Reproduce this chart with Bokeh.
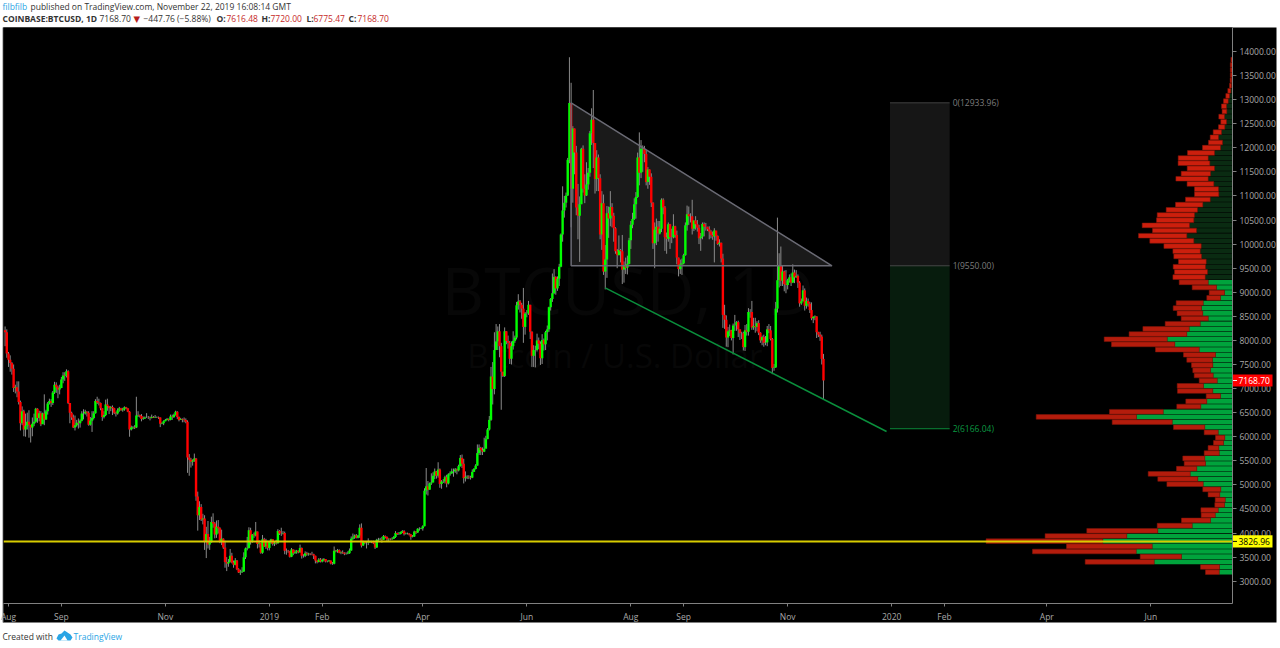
from bokeh.plotting import figure
from bokeh.embed import file_html
from bokeh.resources import INLINE
from bokeh.core.properties import value
from bokeh.models import (Range1d, FixedTicker, LinearAxis, NumeralTickFormatter, ColumnDataSource)
import pandas as pd

# ---- daily candles, 30 Jul 2018 .. 22 Nov 2019 ----
first_open = 8210
close = [8170,7730,
 7600,7530,7410,7010,7030,6940,6720,6280,6530,6150,6230,6310,6250,6190,6270,6310,6580,6390,6490,6260,6480,6360,6530,6690,6740,6700,6920,7080,7030,6980,7010,
 7190,7270,7260,7360,6700,6500,6400,6190,6240,6290,6280,6330,6480,6480,6520,6500,6250,6330,6390,6490,6740,6710,6700,6590,6410,6450,6670,6640,6590,6620,
 6590,6500,6480,6550,6590,6550,6570,6610,6590,6520,6150,6190,6200,6190,6440,6450,6430,6370,6380,6400,6400,6400,6390,6410,6400,6410,6410,6400,6270,6280,6320,
 6350,6370,6350,6420,6410,6450,6520,6410,6350,6370,6360,6350,6310,5570,5520,5480,5500,5550,4760,4370,4540,4280,4300,3830,3980,3760,3810,4230,4200,3970,
 4130,4100,3820,3880,3700,3400,3370,3400,3530,3390,3340,3430,3250,3180,3190,3200,3500,3680,3690,4060,3840,3970,3950,4030,3770,3790,3590,3870,3720,3830,3690,
 3820,3870,3780,3800,3790,4040,3990,3990,4000,3630,3630,3620,3510,3660,3580,3600,3630,3600,3690,3530,3530,3580,3560,3570,3560,3560,3530,3430,3400,3450,3410,
 3440,3460,3410,3410,3430,3370,3360,3630,3620,3650,3590,3600,3590,3570,3570,3580,3640,3880,3910,3950,3900,3950,4110,3740,3820,3800,3800,3810,
 3820,3820,3790,3700,3860,3860,3870,3860,3940,3920,3870,3880,3870,3880,3920,4000,3980,3980,4020,4040,3980,3990,3990,3970,3920,3930,4030,4010,4090,4090,4100,
 4140,4880,4970,4900,5030,5050,5190,5280,5190,5320,5020,5070,5070,5160,5030,5220,5240,5280,5280,5320,5300,5390,5560,5440,5140,5160,5170,5160,5150,5270,
 5330,5400,5660,5770,5720,5690,5750,5950,6150,6350,7250,6990,7800,7980,8190,7880,7350,7260,8190,7990,7950,7620,7880,7990,8060,8730,8810,8740,8660,8280,8560,
 8560,8740,8180,7680,7800,7800,8000,7930,7630,8010,7920,8170,8230,8690,8860,8980,9320,9080,9280,9530,10200,10700,10860,11010,11750,12930,11150,12400,11900,10760,
 10590,10830,11980,11150,11010,11240,11480,12300,12580,12100,11350,11800,11370,10200,10850,9430,9680,10640,10530,10770,10590,10330,9850,9770,9880,9850,9470,9540,9510,9590,10080,
 10400,10520,10830,10980,11800,11480,11980,11980,11870,11290,11550,11400,10860,10020,10300,10360,10220,10320,10920,10760,10140,10110,10410,10150,10140,10370,10190,9720,9480,9580,9600,
 9770,10390,10620,10580,10580,10320,10490,10410,10340,10120,10160,10420,10360,10360,10310,10260,10190,10160,10280,10170,10000,10030,9700,8530,8430,8060,8190,8210,8050,8310,
 8310,8380,8230,8150,8150,7860,8210,8180,8590,8590,8270,8300,8280,8360,8160,8000,8070,7950,7960,8230,8210,8030,7430,7440,8660,9250,9550,9240,9430,9170,9150,
 9250,9310,9200,9410,9310,9340,9200,8770,8810,9040,8720,8820,8760,8630,8460,8490,8500,8170,8120,8080,7616.48,7168.70]
high = [8290,8230,
 7760,7690,7550,7500,7080,7150,7150,6750,6630,6560,6480,6500,6550,6230,6400,6480,6600,6590,6540,6530,6500,6880,6560,6720,6790,6780,6950,7140,7130,7060,7080,
 7240,7340,7340,7400,7380,6700,6520,6460,6440,6350,6380,6360,6530,6570,6560,6530,6530,6410,6530,6530,6780,6830,6790,6710,6590,6530,6770,6790,6640,6640,
 6650,6600,6520,6590,6620,6600,6600,6630,6620,6590,6530,6230,6220,6240,6830,6530,6460,6470,6420,6420,6490,6430,6420,6460,6430,6450,6420,6420,6400,6300,6340,
 6370,6390,6380,6460,6460,6480,6540,6530,6420,6390,6380,6400,6380,6340,5640,5560,5530,5650,5560,4860,4660,4600,4400,4370,4130,4250,3920,4340,4410,4230,
 4260,4270,4120,4070,3890,3840,3500,3460,3670,3590,3430,3480,3440,3270,3240,3290,3600,3700,3920,4120,4110,3980,4010,4230,4030,3850,3800,3960,3900,3880,3840,
 3840,3880,3870,3830,3860,4080,4060,4110,4040,4030,3680,3650,3630,3690,3660,3650,3650,3640,3760,3700,3560,3620,3610,3590,3580,3610,3570,3530,3430,3480,3480,
 3470,3480,3460,3430,3440,3430,3400,3720,3650,3670,3660,3620,3640,3600,3600,3620,3680,3930,3990,3970,3980,3960,4180,4200,3840,3830,3830,3890,
 3840,3840,3840,3810,3880,3900,3900,3920,3960,3950,3930,3890,3890,3910,3940,4040,4010,4020,4030,4060,4060,4010,4010,4000,3980,3960,4050,4040,4100,4120,4110,
 4160,4930,5350,5080,5050,5240,5260,5340,5290,5470,5340,5100,5120,5190,5210,5240,5280,5340,5340,5350,5340,5420,5620,5630,5540,5280,5200,5200,5190,5320,
 5350,5430,5840,5840,5790,5780,5980,6020,6180,6430,7450,7550,8170,8340,8290,8340,7950,7350,8270,8190,8100,7990,7980,8190,8100,8800,8960,8840,8780,9090,8590,
 8630,8820,8740,8190,7900,7890,8140,8060,7980,8130,8040,8200,8310,8700,8880,9390,9480,9330,9330,9590,10220,11200,11000,11070,11790,13880,13350,12450,12400,12040,
 11250,10990,12000,12050,11450,11700,11580,12350,12820,13200,12100,11950,11860,11450,11100,11030,9980,10790,10780,11100,10850,10650,10350,9900,10180,9900,10190,9640,9720,9760,10130,
 10480,10650,10950,11080,11900,12320,12160,12050,12040,11950,11600,11550,11470,10870,10450,10530,10480,10480,10950,10950,10790,10240,10450,10420,10320,10620,10380,10280,9720,9680,9700,
 9800,10450,10800,10780,10640,10920,10490,10580,10500,10400,10230,10450,10450,10440,10360,10370,10290,10260,10330,10240,10180,10100,10030,9800,8740,8520,8280,8330,8220,8350,
 8530,8400,8410,8230,8180,8180,8320,8340,8670,8650,8820,8470,8470,8400,8420,8170,8100,8120,8090,8300,8340,8300,8050,7510,8800,10550,9810,9950,9560,9450,9460,
 9280,9370,9390,9580,9470,9460,9370,9230,8870,9140,9080,8890,8870,8800,8790,8500,8520,8500,8180,8180,8120,7720]
low = [7880,7640,
 7450,7350,7290,6930,6900,6820,6670,6130,6240,6010,6000,6150,5980,5880,6010,6220,6290,6290,6320,6220,6270,6240,6350,6460,6670,6620,6660,6890,6910,6800,6880,
 7010,7110,7160,7230,6680,6280,6350,6180,6130,6210,6170,6190,6320,6360,6460,6420,6230,6230,6100,6360,6480,6680,6650,6550,6330,6380,6430,6540,6470,6530,
 6450,6470,6420,6460,6520,6540,6520,6540,6570,6510,6000,6130,6160,6160,6180,6410,6400,6320,6350,6370,6390,6370,6340,6380,6390,6390,6390,6370,6200,6260,6240,
 6320,6340,6320,6340,6350,6390,6440,6370,6320,6350,6300,6300,6280,5250,5190,5360,5400,5480,4670,4050,4270,4250,4180,3650,3480,3680,3650,3800,4110,3890,
 3900,3990,3790,3750,3670,3280,3210,3300,3390,3370,3280,3330,3230,3170,3130,3170,3190,3460,3640,3680,3760,3800,3900,3930,3680,3700,3570,3570,3710,3670,3640,
 3640,3770,3740,3730,3760,3780,3960,3940,3970,3560,3550,3590,3490,3500,3540,3570,3570,3580,3590,3470,3490,3500,3530,3530,3540,3540,3460,3370,3370,3390,3390,
 3390,3410,3390,3390,3410,3350,3340,3350,3600,3590,3580,3560,3570,3540,3550,3560,3570,3630,3860,3880,3890,3890,3900,3700,3730,3770,3680,3750,
 3800,3790,3770,3670,3690,3840,3850,3800,3860,3890,3830,3830,3850,3860,3880,3900,3960,3960,3970,4000,3950,3970,3970,3950,3860,3910,3920,3980,4000,4050,4080,
 4050,4140,4800,4780,4900,5000,5050,5120,5130,5150,4940,4920,5040,5030,4950,5010,5190,5230,5170,5250,5220,5280,5380,5350,5030,5070,5120,5120,5110,5140,
 5270,5320,5400,5620,5620,5620,5680,5810,5950,6130,6330,6670,6880,7820,7800,7650,6560,7240,7240,7920,7830,7510,7500,7810,7950,8020,8640,8580,8450,7950,8120,
 8480,8530,8030,7450,7450,7440,7770,7820,7490,7510,7790,7800,8000,8180,8620,8800,8960,8950,9030,9130,9520,10050,10550,10760,11000,11680,10350,10860,11450,10600,
 10100,9630,10830,11070,10850,11000,11130,11400,12060,11580,11050,11100,11100,10100,9880,9360,9060,9300,10130,10370,10350,10050,9800,9500,9770,9620,9170,9200,9380,9370,9580,
 9900,10330,10500,10530,10960,11220,11370,11500,11700,11220,11150,11230,10770,9900,9500,9980,10050,10200,10250,10620,9860,9800,10050,9900,10020,10120,10130,9580,9330,9380,9360,
 9580,9760,10280,10400,10450,10200,10270,10300,10260,10000,9860,10100,10160,10280,10270,10100,10120,10090,9620,10070,9980,9950,9620,8260,8240,7870,7860,8090,8000,7710,
 8200,8200,8070,8010,8030,7790,7780,8100,8100,8470,8220,8220,8160,8190,8110,7950,7900,7870,7900,7880,8150,8000,7300,7370,7430,8580,9100,9130,9130,9020,8980,
 9060,9200,9130,9190,9190,9300,9090,8700,8740,8810,8620,8660,8700,8570,8420,8360,8420,8050,8070,7990,7500,6775.47]
assert len(close) == len(high) == len(low)

# ---- volume profile, bottom row first (rows are vp_step apart) ----
vp_first_price = 3187
vp_step = 107.5
vp_up = [13.3,13,78.3,51,96.3,80.3,129.7,105.7,74.7,40.3,22,17.3,14.3,8,7.3,12.7,11.7,29.3,34.7,42.3,35.7,27,27.7,13.3,13.7,9,7.7,14.3,27.7,60.3,96,69.3,31.7,25.7,12,19.7,29,15.3,19.3,22,19.7,20,17,33.3,57.7,65.3,45.7,43.3,32.3,24.3,29.7,
 31,29.3,12,8,16,24.3,27.3,25,27,26.3,31,32.3,31.3,38.7,45.7,36,43,38.7,38,35,29.7,22.3,13.7,14,18.7,24.3,22,18,22.7,24.3,18,12,10,14,11,7.7,6,8,5.7,6,4.3,3,1.7,1,.7,.5,.5,.5,.3]
vp_down = [13.7,19,69,41.3,103.7,85.7,116.7,81.7,71,35,29,14,17.3,9.7,10,11.7,18,36.3,40,42,20.3,21.3,22,15,10.7,10,9.3,14,31.3,60,100.3,53.7,24,21,14.3,35.3,26.3,18,19,17.7,21.3,25.7,32,43.7,63.3,63,57.7,46.3,35,27,25.7,
 28.3,27,13.7,15.3,24.3,29,32.3,33,32.3,27.7,27.7,27.3,37.3,44,48.3,44,47.3,37.3,37.3,31.3,27.3,24.7,24.3,24,26.7,32.3,29.3,27.3,31.7,30,27,18,14,8.3,8.3,6.3,5.7,5.7,4.7,5,4.7,3.7,3,2,1.7,1.7,1.7,1.7,1.3]
assert len(vp_up) == len(vp_down) == 100
vp_bright_below = 9300

# ---- axes ----
price_ticks = [3000,3500,4000,4500,5000,5500,6000,6500,7000,7500,8000,8500,9000,9500,10000,10500,
               11000,11500,12000,12500,13000,13500,14000]
time_ticks = ["2018-08-01","2018-09-01","2018-11-01","2019-01-01","2019-02-01","2019-04-01","2019-06-01",
              "2019-08-01","2019-09-01","2019-11-01","2020-01-01","2020-02-01","2020-04-01","2020-06-01"]
time_labels = ["Aug","Sep","Nov","2019","Feb","Apr","Jun","Aug","Sep","Nov","2020","Feb","Apr","Jun"]

# ---- drawings ----
tri_dates = ["2019-06-27","2019-11-27","2019-06-27"]
tri_prices = [12933.96,9550,9550]
trend_dates = ["2019-07-17","2019-12-29"]
trend_prices = [9092,6108]
fib_dates = ["2019-12-31","2020-02-04"]
fib_levels = [12933.96,9550.00,6166.04]
fib_texts = ["0(12933.96)","1(9550.00)","2(6166.04)"]
support = 3826.96
last_price = 7168.70

# ---- page header / footer ----
BLUE = "#2aa5e5"; RED = "#c62828"; INK = "#333333"
header = [(2, 6, "filbfilb", BLUE, "normal"),
          (30, 6, "published on TradingView.com, November 22, 2019 16:08:14 GMT", INK, "normal"),
          (2, 18, "COINBASE:BTCUSD, 1D", INK, "bold"),
          (99, 18, "7168.70", INK, "normal"),
          (143, 18, "\u2212447.76 (\u22125.88%)", INK, "normal"),
          (216, 18, "O:", INK, "bold"), (226, 18, "7616.48", RED, "normal"),
          (261, 18, "H:", INK, "bold"), (270, 18, "7720.00", RED, "normal"),
          (306, 18, "L:", INK, "bold"), (313, 18, "6775.47", RED, "normal"),
          (348, 18, "C:", INK, "bold"), (357, 18, "7168.70", RED, "normal"),
          (2, 636, "Created with", INK, "normal"),
          (73, 636, "TradingView", BLUE, "normal")]

FONT = "Open Sans"
W, H = 1280, 648
FL, FR, FT, FB = 3, 1232, 27, 603
Y_TOP, Y_BOT = 14498, 2537
DAY = 86400000.0


def ms(d):
    return pd.Timestamp(d).value / 1e6


def page_layer(y_range, margin=None):
    """A transparent figure whose frame fills the whole page."""
    f = figure(width=W, height=H, output_backend="svg", toolbar_location=None,
               x_axis_type=None, y_axis_type=None, x_range=Range1d(0, W), y_range=y_range,
               min_border=0, min_border_left=0, min_border_right=0, min_border_top=0, min_border_bottom=0,
               background_fill_color=None, border_fill_color=None, outline_line_color=None, margin=margin)
    f.grid.visible = False
    return f


# ---- bottom layer: white page, black panel, header, footer ----
bg = page_layer(Range1d(H, 0))
bg.quad(left=[0], right=[W], top=[0], bottom=[H], fill_color="#ffffff", line_color=None)
bg.quad(left=[2.5], right=[1276], top=[27], bottom=[622], fill_color="#000000", line_color=None)
bg.segment([2.5], [27], [2.5], [622], line_color="#808080", line_width=1)
for hx, hy, txt, col, style in header:
    bg.text(x=[hx], y=[hy], text=[txt], text_color=col, text_font=value(FONT), text_font_size="8.5px",
            text_font_style=style, text_baseline="middle", text_align="left")
bg.text(x=[133], y=[18], text=["\u25bc"], text_color="#b71c1c", text_font=value("DejaVu Sans"),
        text_font_size="8.5px", text_baseline="middle", text_align="left")
bg.patch([56, 58, 61, 64, 67, 70, 72, 70, 58], [638, 634, 633, 630, 632, 634, 637, 640, 640],
         fill_color=BLUE, line_color=None)
bg.patch([60, 64, 67], [640, 635, 640], fill_color="#ffffff", line_color=None)

# ---- middle layer: the chart ----
d0 = ms("2018-08-01")
x_start, x_end = d0 - 2.93*DAY, d0 + 717.9*DAY
p = figure(width=W, height=H, output_backend="svg", toolbar_location=None,
           x_axis_type=None, y_axis_type=None,
           x_range=Range1d(x_start, x_end), y_range=Range1d(Y_BOT, Y_TOP),
           min_border_left=FL, min_border_right=W-FR, min_border_top=FT, min_border_bottom=H-FB,
           background_fill_color="#000000", border_fill_color=None,
           outline_line_color=None, margin=(-H, 0, 0, 0))
p.grid.visible = False
p.extra_x_ranges = {"vp": Range1d(FR-FL, 0)}

ax_r = LinearAxis(ticker=FixedTicker(ticks=price_ticks), formatter=NumeralTickFormatter(format="0.00"))
ax_r.axis_line_color = "#808080"; ax_r.major_tick_line_color = "#808080"
ax_r.major_tick_out = 4; ax_r.major_tick_in = 0; ax_r.minor_tick_out = 0; ax_r.minor_tick_in = 0
ax_r.major_label_text_color = "#a8a8a8"; ax_r.major_label_text_font_size = "8.5px"
ax_r.major_label_text_font = FONT; ax_r.major_label_standoff = 3
p.add_layout(ax_r, "right")

tick_ms = [ms(t) for t in time_ticks]
ax_b = LinearAxis(ticker=FixedTicker(ticks=tick_ms),
                  major_label_overrides={t: l for t, l in zip(tick_ms, time_labels)})
ax_b.axis_line_color = "#808080"; ax_b.major_tick_line_color = "#808080"
ax_b.major_tick_out = 3; ax_b.major_tick_in = 0; ax_b.minor_tick_out = 0; ax_b.minor_tick_in = 0
ax_b.major_label_text_color = "#a8a8a8"; ax_b.major_label_text_font_size = "8.5px"
ax_b.major_label_text_font = FONT; ax_b.major_label_standoff = 4
p.add_layout(ax_b, "below")

# watermark
p.text(x=[ms("2019-04-12")], y=[9060], text=["BTCUSD, 1D"], text_color="#070707",
       text_font=value(FONT), text_font_size="66px", text_baseline="middle", text_align="left")
p.text(x=[ms("2019-04-27")], y=[7680], text=["Bitcoin / U.S. Dollar"], text_color="#070707",
       text_font=value(FONT), text_font_size="33px", text_baseline="middle", text_align="left")

# triangle fill and fib zones under the candles
tri_x = [ms(d) for d in tri_dates]
p.patch(tri_x, tri_prices, fill_color="#ffffff", fill_alpha=0.1, line_color=None)
fx = [ms(d) for d in fib_dates]
p.quad(left=[fx[0]], right=[fx[1]], top=[fib_levels[0]], bottom=[fib_levels[1]],
       fill_color="#161616", line_color=None)
p.quad(left=[fx[0]], right=[fx[1]], top=[fib_levels[1]], bottom=[fib_levels[2]],
       fill_color="#071c0d", line_color=None)
for lvl, col in zip(fib_levels, ["#404040", "#484848", "#0b8a3a"]):
    p.segment([fx[0]], [lvl], [fx[1]], [lvl], line_color=col, line_width=1)
p.text(x=[fx[1]]*3, y=fib_levels, text=fib_texts, x_offset=3,
       text_color=["#7c7c7c", "#7c7c7c", "#0b9a42"], text_font=value(FONT),
       text_font_size="8.5px", text_baseline="middle", text_align="left")

# candles
dates = pd.date_range("2018-07-30", periods=len(close))
t = [d.value / 1e6 for d in dates]
opens = [first_open] + close[:-1]
colors = ["#00ff00" if c >= o else "#ff0000" for o, c in zip(opens, close)]
src = ColumnDataSource(dict(t=t, o=opens, c=close, h=high, l=low, col=colors))
p.segment("t", "l", "t", "h", source=src, line_color="#8a8a8a", line_width=1)
p.segment("t", "o", "t", "c", source=src, line_color="col", line_width=2.4)

# triangle outline, trend line
p.patch(tri_x, tri_prices, fill_color=None, line_color="#6a6a74", line_width=1.5)
p.line([ms(d) for d in trend_dates], trend_prices, line_color="#0a8f3c", line_width=1.5)

# volume profile
rows = [vp_first_price + i*vp_step for i in range(len(vp_up))]
half = vp_step * 0.45
vp_src = ColumnDataSource(dict(
    top=[r+half for r in rows], bot=[r-half for r in rows],
    u=vp_up, tot=[u+d for u, d in zip(vp_up, vp_down)], zero=[0]*len(rows),
    ucol=["#00a33c" if r < vp_bright_below else "#0a2b12" for r in rows],
    dcol=["#b41c0c" if r < vp_bright_below else "#cc1f0d" for r in rows]))
p.quad(left="u", right="zero", top="top", bottom="bot", source=vp_src, x_range_name="vp",
       fill_color="ucol", line_color=None)
p.quad(left="tot", right="u", top="top", bottom="bot", source=vp_src, x_range_name="vp",
       fill_color="dcol", line_color="#80170a", line_width=0.5)

# support line
p.segment([x_start], [support], [x_end], [support], line_color="#d8cc00", line_width=2)

# ---- top layer: price tags, on the same price scale over the whole page ----
per_px = (Y_TOP - Y_BOT) / (FB - FT)
top_layer = page_layer(Range1d(Y_BOT - (H-FB)*per_px, Y_TOP + FT*per_px), margin=(-H, 0, 0, 0))
for price, fill, ink in [(last_price, "#ff0000", "#ffffff"), (support, "#ffff00", "#000000")]:
    top_layer.quad(left=[FR+0.5], right=[1272], top=[price+125], bottom=[price-125], fill_color=fill, line_color=None)
    top_layer.quad(left=[FR+0.5], right=[FR+4.5], top=[price+10], bottom=[price-10], fill_color=ink, line_color=None)
    top_layer.text(x=[1238], y=[price], text=[f"{price:.2f}"], text_color=ink, text_font=value(FONT),
                   text_font_size="8.5px", text_baseline="middle", text_align="left")

open("out.html", "w").write(file_html([bg, p, top_layer], INLINE))
